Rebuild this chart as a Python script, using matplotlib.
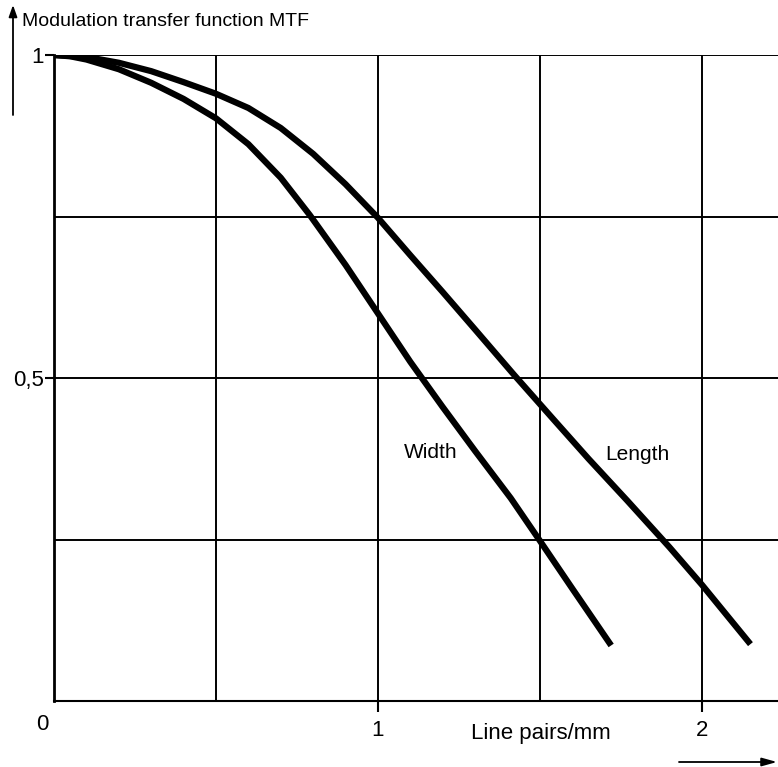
import numpy as np
import matplotlib
matplotlib.use("Agg")
import matplotlib.pyplot as plt

plt.rcParams['font.family'] = ['Liberation Sans', 'DejaVu Sans']

# values
width_x = [0.0, 0.05, 0.1, 0.2, 0.3, 0.4, 0.5, 0.6, 0.7, 0.79, 0.9, 1.0,
           1.1, 1.2, 1.3, 1.41, 1.5, 1.6, 1.72]
width_y = [1.0, 0.998, 0.993, 0.978, 0.957, 0.932, 0.902, 0.862, 0.81, 0.752, 0.675, 0.60,
           0.525, 0.455, 0.387, 0.314, 0.248, 0.174, 0.086]
length_x = [0.0, 0.1, 0.2, 0.3, 0.4, 0.5, 0.6, 0.7, 0.8, 0.9, 1.0, 1.1, 1.2,
            1.3, 1.42, 1.54, 1.65, 1.77, 1.9, 2.0, 2.15]
length_y = [1.0, 0.997, 0.988, 0.975, 0.958, 0.94, 0.918, 0.887, 0.847, 0.80, 0.748, 0.69, 0.633,
            0.575, 0.505, 0.437, 0.375, 0.31, 0.238, 0.18, 0.088]

x_grid = [0.5, 1.0, 1.5, 2.0]
y_grid = [0.25, 0.5, 0.75, 1.0]
y_ticks = [0.5, 1.0]
y_labels = ["0,5", "1"]
x_ticks = [1, 2]
x_labels = ["1", "2"]

W, H = 778, 767
fig = plt.figure(figsize=(W / 100, H / 100), dpi=100)
ax = fig.add_axes([54 / W, (H - 701) / H, (W - 54) / W, 646 / H])
ax.set_xlim(0, 2.235)
ax.set_ylim(0, 1)

for v in x_grid:
    ax.axvline(v, color='black', lw=1.4, zorder=1)
for v in y_grid:
    ax.axhline(v, color='black', lw=1.4, zorder=1)

ax.plot(width_x, width_y, color='black', lw=4.5, solid_capstyle='butt',
        solid_joinstyle='round', zorder=3)
ax.plot(length_x, length_y, color='black', lw=4.5, solid_capstyle='butt',
        solid_joinstyle='round', zorder=3)

for s in ['top', 'right']:
    ax.spines[s].set_visible(False)
ax.spines['left'].set_linewidth(2)
ax.spines['bottom'].set_linewidth(1.5)

ax.set_yticks(y_ticks)
ax.set_yticklabels(y_labels)
ax.set_xticks(x_ticks)
ax.set_xticklabels(x_labels)
ax.tick_params(axis='y', length=6.5, width=1.5, pad=1, labelsize=16)
ax.tick_params(axis='x', length=8, width=1.5, pad=6, labelsize=16)

ax.text(1.164, 0.385, "Width", fontsize=15, ha='center', va='center')
ax.text(1.80, 0.381, "Length", fontsize=15, ha='center', va='center')

# "0" at origin, axis title, unit
fig.text(42 / W, (H - 725) / H, "0", fontsize=16, ha='center', va='center')
fig.text(541 / W, (H - 733) / H, "Line pairs/mm", fontsize=16, ha='center', va='center')
fig.text(22 / W, (H - 22) / H, "Modulation transfer function MTF", fontsize=14,
         ha='left', va='center')

# arrows
fig.add_artist(matplotlib.patches.FancyArrowPatch(
    (13 / W, (H - 115) / H), (13 / W, (H - 5) / H), transform=fig.transFigure,
    arrowstyle='-|>,head_length=7,head_width=2.5', lw=1.3, color='black',
    shrinkA=0, shrinkB=0))
fig.add_artist(matplotlib.patches.FancyArrowPatch(
    (679 / W, (H - 762) / H), (777 / W, (H - 762) / H), transform=fig.transFigure,
    arrowstyle='-|>,head_length=9,head_width=2.5', lw=1.3, color='black',
    shrinkA=0, shrinkB=0))

fig.savefig("out.png", dpi=100)
